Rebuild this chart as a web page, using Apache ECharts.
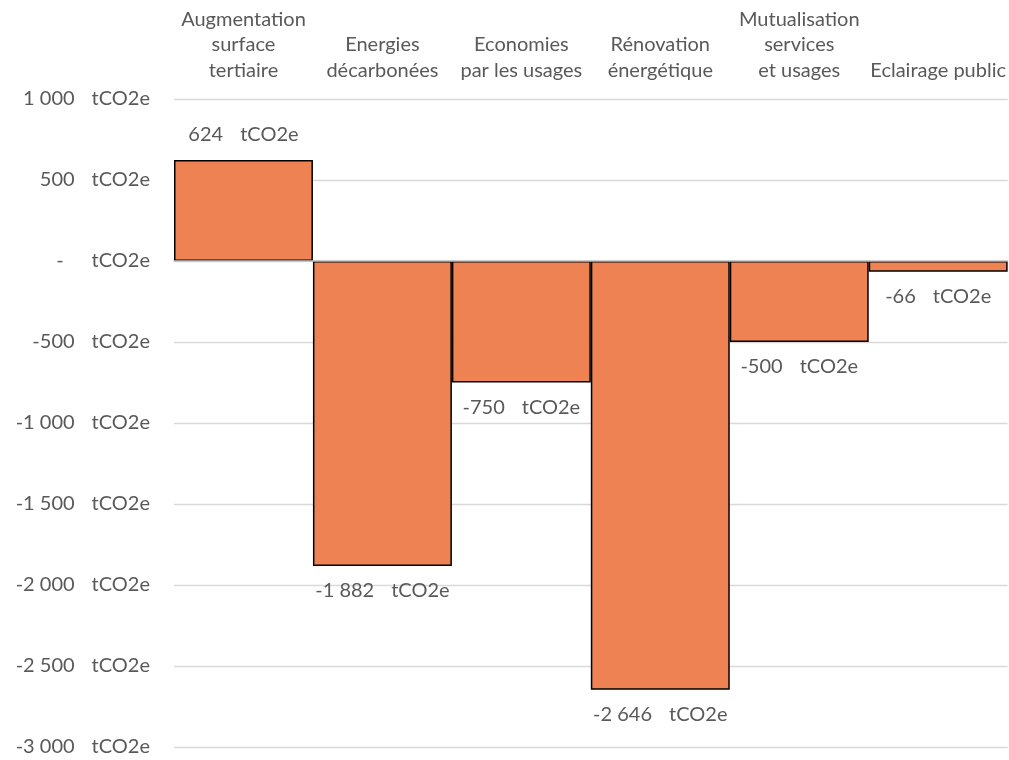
<!DOCTYPE html>
<html>
<head>
<meta charset="utf-8">
<script src="https://cdn.jsdelivr.net/npm/echarts@6/dist/echarts.min.js"></script>
<style>
  html, body { margin: 0; padding: 0; background: #fff; }
  #chart { width: 1009px; height: 760px; }
</style>
</head>
<body>
<div id="chart"></div>
<script>
// Emission change per action, in tCO2e
const categories = [
  'Augmentation\nsurface\ntertiaire',
  'Energies\ndécarbonées',
  'Economies\npar les usages',
  'Rénovation\nénergétique',
  'Mutualisation\nservices\net usages',
  'Eclairage public'
];
const values = [624, -1882, -750, -2646, -500, -66];
const unit = 'tCO2e';
const yMin = -3000, yMax = 1000, yStep = 500;

const FONT = 'Lato';
const TEXT = '#595959';
const SIZE = 20;

// "1 000" style: space as thousands separator
function fmt(v) {
  const s = Math.abs(v).toString().replace(/\B(?=(\d{3})+(?!\d))/g, ' ');
  return (v < 0 ? '-' : '') + s;
}

const chart = echarts.init(document.getElementById('chart'));

chart.setOption({
  animation: false,
  backgroundColor: '#ffffff',
  textStyle: { fontFamily: FONT },
  grid: { left: 174, right: 1, top: 99, bottom: 13, containLabel: false },
  xAxis: [
    {
      type: 'category',
      data: categories,
      position: 'top',
      axisLine: { show: false, onZero: false },
      axisTick: { show: false },
      axisLabel: {
        interval: 0,
        margin: 16,
        color: TEXT,
        fontFamily: FONT,
        fontSize: SIZE,
        lineHeight: 25.5,
        align: 'center'
      }
    },
    {
      // horizontal axis line drawn through zero
      type: 'category',
      data: categories,
      position: 'bottom',
      z: 5,
      axisLine: { show: true, onZero: true, lineStyle: { color: '#bfbfbf', width: 1.5 } },
      axisTick: { show: false },
      axisLabel: { show: false }
    }
  ],
  yAxis: {
    type: 'value',
    min: yMin,
    max: yMax,
    interval: yStep,
    axisLine: { show: false },
    axisTick: { show: false },
    splitLine: { lineStyle: { color: '#d9d9d9', width: 1.3 } },
    axisLabel: {
      margin: 24,
      color: TEXT,
      fontFamily: FONT,
      fontSize: SIZE,
      formatter: function (v) {
        if (v === 0) return '{z|-}{u|' + unit + '}';
        return '{n|' + fmt(v) + '}{u|' + unit + '}';
      },
      rich: {
        n: { color: TEXT, fontFamily: FONT, fontSize: SIZE },
        z: { color: TEXT, fontFamily: FONT, fontSize: SIZE, padding: [0, 11, 0, 0] },
        u: { color: TEXT, fontFamily: FONT, fontSize: SIZE, padding: [0, 0, 0, 17] }
      }
    }
  },
  series: [
    {
      type: 'bar',
      xAxisIndex: 0,
      barCategoryGap: '0%',
      data: values.map(function (v) {
        return {
          value: v,
          label: { position: v >= 0 ? 'top' : 'bottom' }
        };
      }),
      itemStyle: {
        color: '#EE8253',
        borderColor: '#000000',
        borderWidth: 1.5
      },
      label: {
        show: true,
        distance: 15,
        color: TEXT,
        fontFamily: FONT,
        fontSize: SIZE,
        formatter: function (p) {
          return '{n|' + fmt(p.value) + '}{u|' + unit + '}';
        },
        rich: {
          n: { color: TEXT, fontFamily: FONT, fontSize: SIZE },
          u: { color: TEXT, fontFamily: FONT, fontSize: SIZE, padding: [0, 0, 0, 17] }
        }
      },
      z: 3
    }
  ]
});
</script>
</body>
</html>
